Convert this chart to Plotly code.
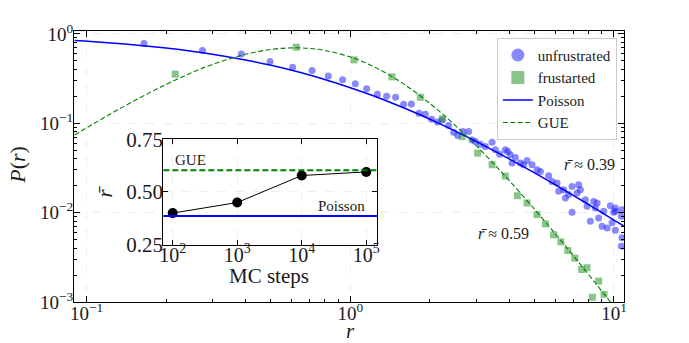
import plotly.graph_objects as go

# ---------------- data ----------------
# unfrustrated spacing-ratio histogram (r, P(r))
r_unfr = [0.165, 0.275, 0.386, 0.496, 0.604, 0.716, 0.825, 0.935, 1.045, 1.153,
          1.266, 1.373, 1.485, 1.593, 1.704, 1.822, 1.925, 2.034, 2.144, 2.228,
          2.36, 2.465, 2.554, 2.676, 2.811, 2.895, 2.98, 3.113, 3.252, 3.449,
          3.549, 3.685, 3.873, 3.952, 4.046, 4.227, 4.106, 4.414, 4.544, 4.681,
          4.89, 5.109, 5.258, 5.653, 5.824, 6.083, 6.169, 6.445, 6.541, 6.731,
          6.934, 7.346, 7.456, 7.244, 7.79, 7.906, 8.375, 8.627, 8.499, 6.934,
          9.69, 10.12, 9.97, 10.73, 9.14, 8.136, 8.75, 9.013, 9.415, 9.835,
          10.12, 10.67, 10.73, 10.67, 10.12]
p_unfr = [0.780, 0.651, 0.597, 0.491, 0.424, 0.390, 0.337, 0.306, 0.276, 0.243,
          0.2105, 0.200, 0.195, 0.163, 0.164, 0.129, 0.126, 0.1108, 0.1034, 0.1088,
          0.0945, 0.0794, 0.0727, 0.0806, 0.0806, 0.0651, 0.0624, 0.0583, 0.0548, 0.0614,
          0.0504, 0.0451, 0.0504, 0.0482, 0.0443, 0.0413, 0.0358, 0.0358, 0.0343, 0.0383,
          0.0343, 0.0302, 0.0289, 0.0259, 0.0223, 0.0214, 0.0173, 0.0180, 0.0146, 0.0159,
          0.0196, 0.0205, 0.0180, 0.0166, 0.01396, 0.01175, 0.01336, 0.01283, 0.01128, 0.01008,
          0.01197, 0.01128, 0.01008, 0.0108, 0.01034, 0.0080, 0.00873, 0.00704, 0.00675, 0.00768,
          0.00635, 0.00909, 0.00522, 0.00421, 0.01034]

# frustrated spacing-ratio histogram
r_frus = [0.2168, 0.624, 1.033, 1.439, 1.843, 2.234, 2.653, 3.04, 3.449, 3.873,
          4.30, 4.681, 5.109, 5.494, 5.905, 6.289, 6.685, 7.106, 7.543, 7.906,
          8.75, 9.17, 8.28]
p_frus = [0.3544, 0.709, 0.5117, 0.3307, 0.195, 0.1117, 0.0709, 0.0463, 0.0343, 0.02566,
          0.01547, 0.01283, 0.0095, 0.00748, 0.00564, 0.00471, 0.00377, 0.00309, 0.00231, 0.00242,
          0.001714, 0.001219, 0.001128]

# reference curves
r_curve = [0.09, 0.12, 0.16, 0.2, 0.25, 0.3, 0.4, 0.5, 0.6, 0.7, 0.8, 1.0, 1.2,
           1.5, 1.8, 2.2, 2.7, 3.3, 4.0, 5.0, 6.0, 7.0, 8.5, 10.0, 11.0]
p_poisson = [0.8417, 0.7972, 0.7432, 0.6944, 0.64, 0.5917, 0.5102, 0.4444, 0.3906,
             0.3460, 0.3086, 0.25, 0.2066, 0.16, 0.1276, 0.09766, 0.07305, 0.05408,
             0.04, 0.02778, 0.02041, 0.01563, 0.01108, 0.008264, 0.006944]
p_gue = [0.0739, 0.1218, 0.1946, 0.2720, 0.3674, 0.4549, 0.5912, 0.6696, 0.6972,
         0.6873, 0.6531, 0.5513, 0.4432, 0.3084, 0.2131, 0.1324, 0.07638, 0.04223,
         0.02296, 0.01088, 0.00576, 0.003317, 0.00163, 0.00089, 0.000622]

# inset: mean ratio vs Monte Carlo steps
mc_steps = [1e2, 1e3, 1e4, 1e5]
r_mean = [0.40, 0.45, 0.578, 0.595]
r_mean_gue = 0.6027
r_mean_poisson = 0.3863

x_major = [0.1, 1, 10]
x_major_text = ["10<sup>−1</sup>", "10<sup>0</sup>", "10<sup>1</sup>"]
y_major = [0.001, 0.01, 0.1, 1]
y_major_text = ["10<sup>−3</sup>", "10<sup>−2</sup>", "10<sup>−1</sup>", "10<sup>0</sup>"]
x_minor = [0.2, 0.3, 0.4, 0.5, 0.6, 0.7, 0.8, 0.9, 2, 3, 4, 5, 6, 7, 8, 9]
y_minor = [0.002, 0.003, 0.004, 0.005, 0.006, 0.007, 0.008, 0.009,
           0.02, 0.03, 0.04, 0.05, 0.06, 0.07, 0.08, 0.09,
           0.2, 0.3, 0.4, 0.5, 0.6, 0.7, 0.8, 0.9]
inset_x_ticks = [1e2, 1e3, 1e4, 1e5]
inset_x_text = ["10<sup>2</sup>", "10<sup>3</sup>", "10<sup>4</sup>", "10<sup>5</sup>"]
inset_y_ticks = [0.25, 0.50, 0.75]
inset_y_text = ["0.25", "0.50", "0.75"]

FONT = "Liberation Serif"
INK = "#1a1a1a"
BLUE_PT = "rgba(40,40,255,0.55)"
GREEN_PT = "rgba(40,150,40,0.55)"
RBAR = "<i>r</i>\u0304"

fig = go.Figure()

# histogram points
fig.add_trace(go.Scatter(x=r_unfr, y=p_unfr, mode="markers", showlegend=False,
                         marker=dict(color=BLUE_PT, size=7, symbol="circle", line_width=0)))
fig.add_trace(go.Scatter(x=r_frus, y=p_frus, mode="markers", showlegend=False,
                         marker=dict(color=GREEN_PT, size=7, symbol="square", line_width=0)))
# reference curves
fig.add_trace(go.Scatter(x=r_curve, y=p_poisson, mode="lines", name="Poisson",
                         line=dict(color="#0000ff", width=1.5, shape="spline"), legendrank=3))
fig.add_trace(go.Scatter(x=r_curve, y=p_gue, mode="lines", name="GUE",
                         line=dict(color="#008000", width=1.1, dash="5px,2.5px", shape="spline"),
                         legendrank=4))
# legend entries for the point series (larger symbols)
fig.add_trace(go.Scatter(x=[None], y=[None], mode="markers", name="unfrustrated",
                         marker=dict(color=BLUE_PT, size=13, symbol="circle", line_width=0),
                         legendrank=1))
fig.add_trace(go.Scatter(x=[None], y=[None], mode="markers", name="frustarted",
                         marker=dict(color=GREEN_PT, size=13, symbol="square", line_width=0),
                         legendrank=2))

# inset
fig.add_trace(go.Scatter(x=mc_steps, y=r_mean, mode="lines+markers", showlegend=False,
                         xaxis="x2", yaxis="y2",
                         line=dict(color="black", width=1),
                         marker=dict(color="black", size=10)))

axis_common = dict(showline=True, linecolor="black", linewidth=1, mirror="ticks",
                   ticks="inside", tickcolor="black", ticklen=6, tickwidth=1,
                   tickfont=dict(family=FONT, size=19, color=INK),
                   showgrid=True, gridcolor="#eeeeee", griddash="dash", gridwidth=0.8,
                   zeroline=False)
inset_font = dict(family=FONT, size=20, color=INK)

fig.update_layout(
    width=689, height=343,
    margin=dict(l=74, r=65, t=31, b=41),
    paper_bgcolor="white", plot_bgcolor="white",
    font=dict(family=FONT, color=INK),
    xaxis=dict(type="log", range=[-1.048, 1.038], tickmode="array",
               tickvals=x_major, ticktext=x_major_text, ticklabelstandoff=-6,
               minor=dict(tickmode="array", tickvals=x_minor, ticks="inside",
                          ticklen=3, tickcolor="black", showgrid=False),
               **axis_common),
    yaxis=dict(type="log", range=[-3.0, 0.032], tickmode="array",
               tickvals=y_major, ticktext=y_major_text, ticklabelstandoff=-4,
               minor=dict(tickmode="array", tickvals=y_minor, ticks="inside",
                          ticklen=3, tickcolor="black", showgrid=False),
               **axis_common),
    xaxis2=dict(type="log", range=[1.855, 5.17], domain=[0.1624, 0.5513], anchor="y2",
                tickmode="array", tickvals=inset_x_ticks, ticktext=inset_x_text,
                ticklabelstandoff=-8,
                **{**axis_common, "ticklen": 5, "tickfont": inset_font}),
    yaxis2=dict(range=[0.25, 0.75], domain=[0.2112, 0.6008], anchor="x2",
                tickmode="array", tickvals=inset_y_ticks, ticktext=inset_y_text,
                ticklabelstandoff=-5,
                **{**axis_common, "ticklen": 5, "tickfont": dict(family=FONT, size=21, color=INK)}),
    legend=dict(x=0.987, y=0.975, xanchor="right", yanchor="top",
                bgcolor="rgba(255,255,255,0.85)", bordercolor="#cccccc", borderwidth=1,
                font=dict(family=FONT, size=15, color=INK), tracegroupgap=0),
    shapes=[
        dict(type="line", xref="x2 domain", x0=0, x1=1, yref="y2",
             y0=r_mean_gue, y1=r_mean_gue, line=dict(color="#008000", width=2, dash="6px,3px")),
        dict(type="line", xref="x2 domain", x0=0, x1=1, yref="y2",
             y0=r_mean_poisson, y1=r_mean_poisson, line=dict(color="#0000ff", width=2)),
    ],
    annotations=[
        dict(text="<i>P</i>(<i>r</i>)", x=-0.102, y=0.506, xref="paper", yref="paper",
             xanchor="center", yanchor="middle",
             textangle=-90, showarrow=False, font=dict(size=22)),
        dict(text="<i>r</i>", x=0.502, y=-0.108, xref="paper", yref="paper",
             xanchor="center", yanchor="middle", showarrow=False, font=dict(size=21)),
        dict(text=RBAR, x=0.056, y=0.4066, xref="paper", yref="paper",
             xanchor="center", yanchor="middle",
             textangle=-90, showarrow=False, font=dict(size=21)),
        dict(text="MC steps", x=0.3545, y=0.097, xref="paper", yref="paper",
             xanchor="center", yanchor="middle", showarrow=False, font=dict(size=21)),
        dict(text=RBAR + " ≈ 0.39", x=0.987, y=0.506, xref="paper", yref="paper",
             xanchor="right", yanchor="middle", showarrow=False, font=dict(size=16)),
        dict(text=RBAR + " ≈ 0.59", x=0.731, y=0.252, xref="paper", yref="paper",
             xanchor="left", yanchor="middle", showarrow=False, font=dict(size=16)),
        dict(text="GUE", x=0.045, y=0.652, xref="x2 domain", yref="y2",
             xanchor="left", yanchor="middle", showarrow=False, font=dict(size=15)),
        dict(text="Poisson", x=0.952, y=0.4345, xref="x2 domain", yref="y2",
             xanchor="right", yanchor="middle", showarrow=False, font=dict(size=15)),
    ],
)

fig.write_html("out.html")
